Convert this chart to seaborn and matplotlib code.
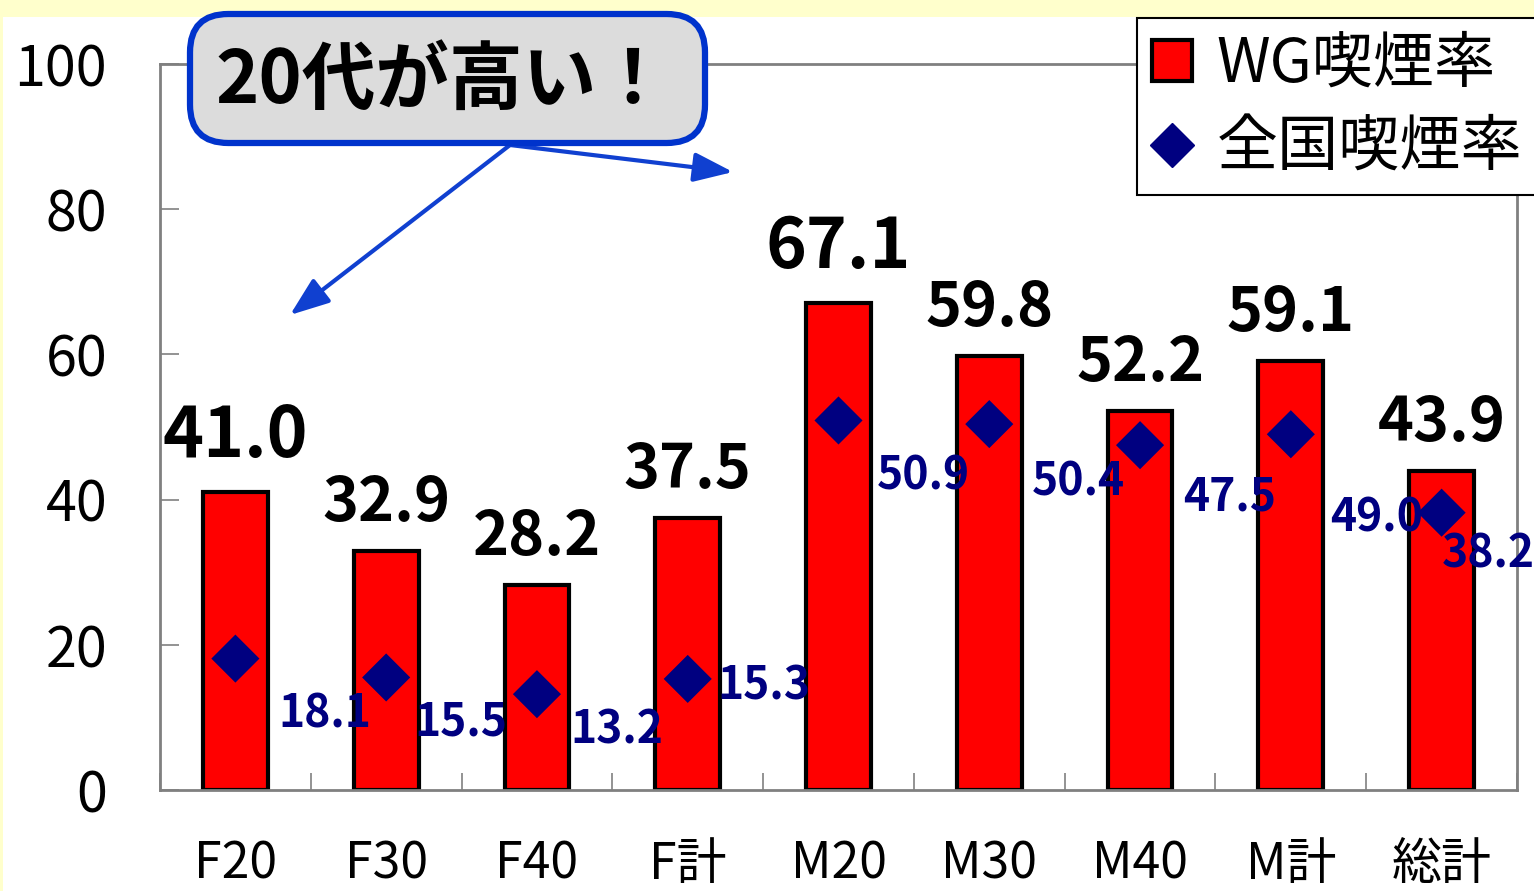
import numpy as np
import pandas as pd
import matplotlib
matplotlib.use('Agg')
import matplotlib.pyplot as plt
import seaborn as sns
from matplotlib.patches import Patch, Rectangle, FancyBboxPatch
from matplotlib.lines import Line2D
from matplotlib.ticker import FixedLocator

# ---- data ----
categories = ['F20', 'F30', 'F40', 'F計', 'M20', 'M30', 'M40', 'M計', '総計']
wg_rate = [41.0, 32.9, 28.2, 37.5, 67.1, 59.8, 52.2, 59.1, 43.9]
national_rate = [18.1, 15.5, 13.2, 15.3, 50.9, 50.4, 47.5, 49.0, 38.2]
y_ticks = [0, 20, 40, 60, 80, 100]
series_names = ['WG喫煙率', '全国喫煙率']
callout_text = '20代が高い！'

# ---- layout helpers (pixels) ----
W, H = 1534, 891
nat_label_offsets = [(43, -69), (28, -58), (33, -49), (30, -21), (38, -69),
                     (43, -71), (43, -65), (39, -97), (0, -55)]

sns.set_theme(style='white')
plt.rcParams['font.family'] = ['Noto Sans CJK JP', 'DejaVu Sans']
plt.rcParams['text.color'] = 'black'

RED = '#FF0000'
NAVY = '#000080'
GRAY = '#808080'

fig = plt.figure(figsize=(W / 100, H / 100), dpi=100, facecolor='#FFFFCC')
fig.patches.append(Rectangle((3 / W, 0), 1, 1 - 17 / H, transform=fig.transFigure,
                             facecolor='white', edgecolor='none', zorder=-5))

ax = fig.add_axes([160 / W, 1 - 790 / H, (1517 - 160) / W, (790 - 64) / H])
ax.set_zorder(1)
ax.set_facecolor('white')

df = pd.DataFrame({'cat': categories, 'wg': wg_rate, 'nat': national_rate})
sns.barplot(data=df, x='cat', y='wg', order=categories, color=RED, saturation=1,
            width=0.43, edgecolor='black', linewidth=3, ax=ax, zorder=2)
sns.scatterplot(x=np.arange(len(categories)), y=national_rate, marker='D', s=600,
                color=NAVY, edgecolor='none', linewidth=0, ax=ax, zorder=3, legend=False)

ax.set_xlim(-0.5, len(categories) - 0.5)
ax.set_ylim(0, 100)
ax.set_yticks(y_ticks)
ax.set_yticklabels([str(v) for v in y_ticks])
ax.set_xlabel('')
ax.set_ylabel('')

for s in ax.spines.values():
    s.set_color(GRAY)
    s.set_linewidth(2)
    s.set_visible(True)

ax.tick_params(axis='y', which='major', direction='in', length=14, width=1.2,
               color=GRAY, labelsize=40, pad=38, left=True, labelcolor='black')
ax.tick_params(axis='x', which='major', length=0, labelsize=36, pad=35, labelcolor='black')
ax.xaxis.set_minor_locator(FixedLocator(np.arange(len(categories) + 1) - 0.5))
ax.tick_params(axis='x', which='minor', direction='in', length=12, width=1.2,
               color=GRAY, bottom=True)

# WG value labels
for i, (c, v) in enumerate(zip(categories, wg_rate)):
    big = c.endswith('20')
    ax.annotate(f'{v:.1f}', xy=(i, v), xytext=(0, 35 if big else 30),
                textcoords='offset pixels', ha='center', va='baseline',
                fontsize=50 if big else 44, fontweight='bold', color='black',
                annotation_clip=False, zorder=5)

# national value labels
for i, v in enumerate(national_rate):
    dx, dy = nat_label_offsets[i]
    ax.annotate(f'{v:.1f}', xy=(i, v), xytext=(dx, dy), textcoords='offset pixels',
                ha='left', va='baseline', fontsize=32, fontweight='bold', color=NAVY,
                annotation_clip=False, zorder=5)

# arrows
for end in [(290, 315), (733, 172)]:
    ax.annotate('', xy=(end[0] / W, 1 - end[1] / H), xycoords='figure fraction',
                xytext=(510 / W, 1 - 145 / H), textcoords='figure fraction',
                arrowprops=dict(arrowstyle='-|>,head_length=1.2,head_width=0.45',
                                color='#1040D0', lw=3, mutation_scale=20,
                                shrinkA=0, shrinkB=0),
                annotation_clip=False, zorder=6)

# legend
handles = [Patch(facecolor=RED, edgecolor='black', linewidth=3),
           Line2D([], [], marker='D', linestyle='none', color=NAVY, markersize=22)]
leg = fig.legend(handles, series_names, loc='upper left',
                 bbox_to_anchor=(1137 / W, 1 - 18 / H), frameon=True, fancybox=False,
                 edgecolor='black', fontsize=44, handlelength=0.65, handleheight=0.65,
                 handletextpad=0.4, borderpad=0.25, labelspacing=0.35, borderaxespad=0)
leg.set_zorder(20)
leg.get_frame().set_linewidth(1.5)
leg.get_frame().set_facecolor('white')
leg.get_frame().set_alpha(1)
for t in leg.get_texts():
    t.set_color('black')

# callout box
box = FancyBboxPatch((190 / W, 1 - 143 / H), (705 - 190) / W, (143 - 14) / H,
                     boxstyle='round,pad=0,rounding_size=0.025',
                     transform=fig.transFigure, facecolor='#DCDCDC',
                     edgecolor='#0033CC', linewidth=4.5, zorder=10,
                     mutation_aspect=W / H)
fig.patches.append(box)
fig.text(443 / W, 1 - 82 / H, callout_text, ha='center', va='center', fontsize=53,
         fontweight='bold', color='black', zorder=11)

fig.savefig('out.png', dpi=100, facecolor=fig.get_facecolor())
